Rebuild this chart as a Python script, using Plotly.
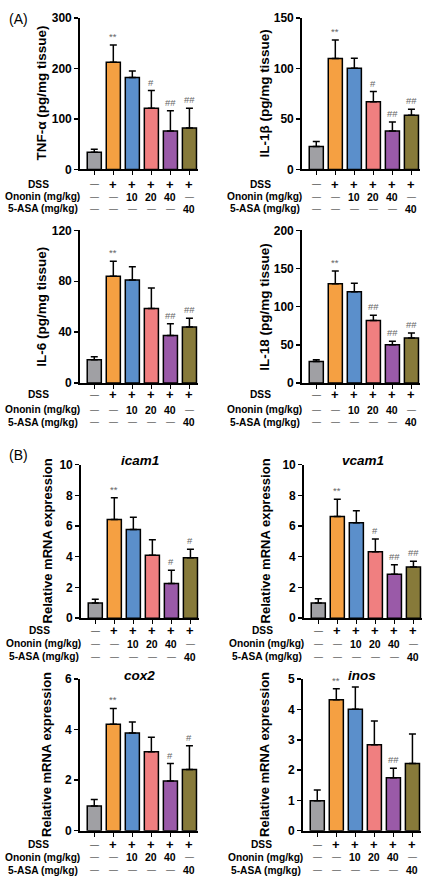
import plotly.graph_objects as go

# ---------------- data ----------------
groups = ["Control", "DSS", "Ononin 10", "Ononin 20", "Ononin 40", "5-ASA 40"]
colors = ["#a0a0a4", "#f5a042", "#5b8fcb", "#f07f80", "#9a5aa8", "#877a3a"]

dss_row = ["—", "+", "+", "+", "+", "+"]
ononin_row = ["—", "—", "10", "20", "40", "—"]
asa_row = ["—", "—", "—", "—", "—", "40"]
row_labels = ["DSS", "Ononin (mg/kg)", "5-ASA (mg/kg)"]

tnf_mean = [34, 212, 182, 121, 76, 82]
tnf_sd = [6, 34, 13, 35, 40, 39]
tnf_sig = ["", "**", "", "#", "##", "##"]

il1b_mean = [22.7, 109.7, 100, 67, 38, 53.6]
il1b_sd = [4.9, 18.3, 10, 10, 9, 5.8]
il1b_sig = ["", "**", "", "#", "##", "##"]

il6_mean = [18.3, 84, 81, 58.6, 37.4, 44]
il6_sd = [2.3, 11.7, 10.4, 16, 9.1, 6.8]
il6_sig = ["", "**", "", "", "##", "##"]

il18_mean = [28, 130, 119.6, 82, 50, 59]
il18_sd = [2.5, 16.7, 11.1, 6.6, 4.6, 6.4]
il18_sig = ["", "**", "", "##", "##", "##"]

icam1_mean = [0.99, 6.43, 5.78, 4.09, 2.26, 3.94]
icam1_sd = [0.24, 1.42, 0.80, 1.01, 0.86, 0.55]
icam1_sig = ["", "**", "", "", "#", "#"]

vcam1_mean = [0.99, 6.62, 6.22, 4.32, 2.86, 3.33]
vcam1_sd = [0.28, 1.12, 0.77, 0.84, 0.62, 0.37]
vcam1_sig = ["", "**", "", "#", "##", "##"]

cox2_mean = [0.98, 4.22, 3.87, 3.13, 1.97, 2.42]
cox2_sd = [0.26, 0.62, 0.43, 0.57, 0.69, 0.94]
cox2_sig = ["", "**", "", "", "#", "#"]

inos_mean = [0.99, 4.32, 4.01, 2.84, 1.75, 2.22]
inos_sd = [0.35, 0.36, 0.73, 0.78, 0.31, 0.97]
inos_sig = ["", "**", "", "", "##", ""]

W, H = 430, 883
FONT = "Liberation Sans"

panels = [
    dict(mean=tnf_mean, sd=tnf_sd, sig=tnf_sig, ytitle="TNF-α (pg/mg tissue)", ymax=300, dtick=100,
         gene=None, xd=(80, 198), yd=(11, 165), tx=42, rows=(180, 193, 205), tsize=13.5),
    dict(mean=il1b_mean, sd=il1b_sd, sig=il1b_sig, ytitle="IL-1β (pg/mg tissue)", ymax=150, dtick=50,
         gene=None, xd=(302, 420), yd=(11, 165), tx=265, rows=(180, 193, 205), tsize=13.5),
    dict(mean=il6_mean, sd=il6_sd, sig=il6_sig, ytitle="IL-6 (pg/mg tissue)", ymax=120, dtick=40,
         gene=None, xd=(80, 198), yd=(227, 382), tx=42, rows=(394, 409, 422), tsize=13.5),
    dict(mean=il18_mean, sd=il18_sd, sig=il18_sig, ytitle="IL-18 (pg/mg tissue)", ymax=200, dtick=50,
         gene=None, xd=(302, 420), yd=(227, 382), tx=265, rows=(394, 409, 422), tsize=13.5),
    dict(mean=icam1_mean, sd=icam1_sd, sig=icam1_sig, ytitle="Relative mRNA expression", ymax=10, dtick=2,
         gene="icam1", xd=(81, 199), yd=(465, 621), tx=47, rows=(634, 647, 660), tsize=13),
    dict(mean=vcam1_mean, sd=vcam1_sd, sig=vcam1_sig, ytitle="Relative mRNA expression", ymax=10, dtick=2,
         gene="vcam1", xd=(304, 422), yd=(465, 621), tx=265, rows=(634, 647, 660), tsize=13),
    dict(mean=cox2_mean, sd=cox2_sd, sig=cox2_sig, ytitle="Relative mRNA expression", ymax=6, dtick=2,
         gene="cox2", xd=(80, 198), yd=(683, 837), tx=47, rows=(851, 864, 877), tsize=13),
    dict(mean=inos_mean, sd=inos_sd, sig=inos_sig, ytitle="Relative mRNA expression", ymax=5, dtick=1,
         gene="inos", xd=(303, 421), yd=(683, 837), tx=265, rows=(851, 864, 877), tsize=13),
]

fig = go.Figure()
annotations = []
layout_axes = {}

for k, p in enumerate(panels, start=1):
    xa = "x" if k == 1 else f"x{k}"
    ya = "y" if k == 1 else f"y{k}"
    xkey = "xaxis" if k == 1 else f"xaxis{k}"
    ykey = "yaxis" if k == 1 else f"yaxis{k}"
    xs = list(range(len(groups)))
    fig.add_trace(go.Bar(
        x=xs, y=p["mean"], xaxis=xa, yaxis=ya, width=0.74,
        marker=dict(color=colors, line=dict(color="black", width=1.5)),
        error_y=dict(type="data", symmetric=False, array=p["sd"], arrayminus=[0] * len(xs),
                     color="black", thickness=1.5, width=3.5),
        showlegend=False, hoverinfo="skip",
    ))
    x0, x1 = p["xd"]
    y0, y1 = p["yd"]
    layout_axes[xkey] = dict(
        domain=[x0 / W, x1 / W], anchor=ya, range=[-0.75, 5.45],
        showline=True, linecolor="black", linewidth=1.8,
        ticks="outside", ticklen=4, tickwidth=1.5, tickcolor="black",
        tickvals=xs, showticklabels=False, showgrid=False, zeroline=False, fixedrange=True,
    )
    layout_axes[ykey] = dict(
        domain=[1 - y1 / H, 1 - y0 / H], anchor=xa, range=[0, p["ymax"]], dtick=p["dtick"],
        showline=True, linecolor="black", linewidth=1.8,
        ticks="outside", ticklen=4, tickwidth=1.5, tickcolor="black",
        tickfont=dict(family=FONT, size=12, color="black", weight="bold"),
        showgrid=False, zeroline=False, fixedrange=True,
    )
    # y title
    annotations.append(dict(
        text=p["ytitle"], xref="paper", yref="paper", x=p["tx"] / W,
        y=1 - (y0 + y1) / 2 / H, textangle=-90, showarrow=False,
        xanchor="center", yanchor="middle",
        font=dict(family=FONT, size=p["tsize"], color="black", weight="bold"),
    ))
    # gene title
    if p["gene"]:
        annotations.append(dict(
            text=f"<i>{p['gene']}</i>", xref=xa + " domain", yref="paper", x=0.5,
            y=1 - (y0 - 4) / H, showarrow=False, xanchor="center", yanchor="middle",
            font=dict(family=FONT, size=13.5, color="black", weight="bold"),
        ))
    # significance marks
    for i in xs:
        if p["sig"][i]:
            annotations.append(dict(
                text=p["sig"][i], xref=xa, yref=ya, x=i, y=p["mean"][i] + p["sd"][i],
                showarrow=False, xanchor="center", yanchor="bottom", yshift=1,
                font=dict(family=FONT, size=9.5, color="#666666"),
            ))
    # treatment table
    row_x_right = [x0 - 29, x0 + 2, x0]
    for r, (lab, vals) in enumerate(zip(row_labels, [dss_row, ononin_row, asa_row])):
        ry = 1 - p["rows"][r] / H
        annotations.append(dict(
            text=lab, xref="paper", yref="paper", x=row_x_right[r] / W,
            y=ry, showarrow=False, xanchor="right", yanchor="middle",
            font=dict(family=FONT, size=10.2, color="black", weight="bold"),
        ))
        for i, v in enumerate(vals):
            if v == "+":
                f = dict(family=FONT, size=13, color="black", weight="bold")
            elif v == "—":
                f = dict(family=FONT, size=9, color="#222222" if r else "black")
            else:
                f = dict(family=FONT, size=10.5, color="black", weight="bold")
            annotations.append(dict(
                text=v, xref=xa, yref="paper", x=i, y=ry, showarrow=False,
                xanchor="center", yanchor="middle", font=f,
            ))

# panel labels
annotations.append(dict(text="(A)", xref="paper", yref="paper", x=7 / W, y=1 - 12 / H,
                        showarrow=False, xanchor="left", yanchor="middle",
                        font=dict(family=FONT, size=14, color="black")))
annotations.append(dict(text="(B)", xref="paper", yref="paper", x=7 / W, y=1 - 455 / H,
                        showarrow=False, xanchor="left", yanchor="middle",
                        font=dict(family=FONT, size=14, color="black")))

fig.update_layout(
    width=W, height=H, margin=dict(l=0, r=0, t=0, b=0),
    paper_bgcolor="white", plot_bgcolor="white",
    annotations=annotations, bargap=0, **layout_axes,
)

fig.write_html("out.html", config={"displayModeBar": False, "staticPlot": True},
               post_script="document.body.style.margin='0';")
